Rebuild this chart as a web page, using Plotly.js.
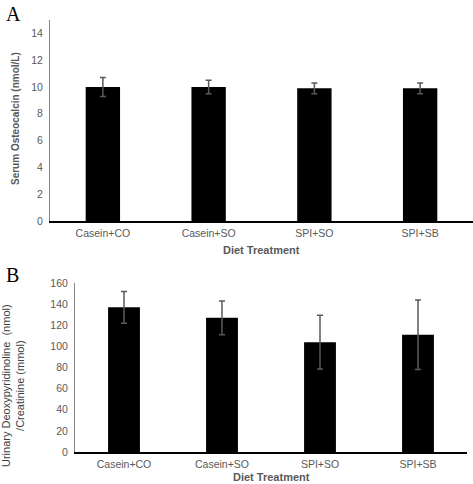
<!DOCTYPE html>
<html>
<head>
<meta charset="utf-8">
<script src="https://cdn.plot.ly/plotly-3.0.1.min.js"></script>
<style>html,body{margin:0;padding:0;background:#fff;}#chart{width:473px;height:484px;}</style>
</head>
<body>
<div id="chart"></div>
<script>
// Data
const categories = ["Casein+CO", "Casein+SO", "SPI+SO", "SPI+SB"];
const osteocalcin = [10.0, 10.0, 9.9, 9.9];
const osteocalcinErr = [0.7, 0.5, 0.4, 0.4];
const dpd = [137, 127, 104, 111];
const dpdErr = [15, 16, 25.5, 33];
const yTicksA = [0, 2, 4, 6, 8, 10, 12, 14];
const yTicksB = [0, 20, 40, 60, 80, 100, 120, 140, 160];

const W = 473, H = 484;
const px = v => v / W;
const py = v => 1 - v / H;
const tickFont = {family: "Liberation Sans, Arial, sans-serif", size: 10.5, color: "#595959"};
const errStyle = {type: "data", visible: true, color: "#595959", thickness: 1.5, width: 3};

const data = [
  {type: "bar", x: categories, y: osteocalcin, xaxis: "x", yaxis: "y",
   marker: {color: "#000000", line: {color: "#000000", width: 0}},
   error_y: Object.assign({array: osteocalcinErr}, errStyle), hoverinfo: "none"},
  {type: "bar", x: categories, y: dpd, xaxis: "x2", yaxis: "y2",
   marker: {color: "#000000", line: {color: "#000000", width: 0}},
   error_y: Object.assign({array: dpdErr}, errStyle), hoverinfo: "none"}
];

const layout = {
  width: W, height: H,
  margin: {l: 0, r: 0, t: 0, b: 0},
  paper_bgcolor: "#ffffff", plot_bgcolor: "#ffffff",
  showlegend: false,
  bargap: 0.675,
  xaxis: {domain: [px(50), 1], anchor: "y", type: "category",
          showline: true, linecolor: "#000000", linewidth: 1.5,
          showgrid: false, zeroline: false, ticks: "", tickfont: tickFont, ticklabelstandoff: 2},
  yaxis: {domain: [py(221), py(20)], anchor: "x", range: [0, 15],
          tickvals: yTicksA, ticktext: yTicksA.map(String),
          showline: true, linecolor: "#868686", linewidth: 1,
          showgrid: false, zeroline: false, ticks: "", tickfont: tickFont, ticklabelstandoff: 4},
  xaxis2: {domain: [px(75), px(467)], anchor: "y2", type: "category",
          showline: true, linecolor: "#000000", linewidth: 1.5,
          showgrid: false, zeroline: false, ticks: "", tickfont: tickFont, ticklabelstandoff: 2},
  yaxis2: {domain: [py(452), py(283)], anchor: "x2", range: [0, 160],
          tickvals: yTicksB, ticktext: yTicksB.map(String),
          showline: true, linecolor: "#868686", linewidth: 1,
          showgrid: false, zeroline: false, ticks: "", tickfont: tickFont, ticklabelstandoff: 4},
  annotations: [
    {text: "A", xref: "paper", yref: "paper", x: px(4), y: py(1), xanchor: "left", yanchor: "top",
     showarrow: false, font: {family: "Liberation Serif, Times New Roman, serif", size: 20, color: "#000"}},
    {text: "B", xref: "paper", yref: "paper", x: px(4), y: py(262), xanchor: "left", yanchor: "top",
     showarrow: false, font: {family: "Liberation Serif, Times New Roman, serif", size: 20, color: "#000"}},
    {text: "<b>Serum Osteocalcin (nmol/L)</b>", xref: "paper", yref: "paper", x: px(15), y: py(119),
     xanchor: "center", yanchor: "middle", textangle: -90, showarrow: false,
     font: {family: "Liberation Sans, Arial, sans-serif", size: 10, color: "#595959"}},
    {text: "<b>Diet Treatment</b>", xref: "paper", yref: "paper", x: px(261), y: py(250),
     xanchor: "center", yanchor: "middle", showarrow: false,
     font: {family: "Liberation Sans, Arial, sans-serif", size: 11, color: "#595959"}},
    {text: "Urinary Deoxypyridinoline  (nmol)<br>/Creatinine (mmol)", xref: "paper", yref: "paper", x: px(13), y: py(386),
     xanchor: "center", yanchor: "middle", textangle: -90, showarrow: false,
     font: {family: "Liberation Sans, Arial, sans-serif", size: 11, color: "#404040"}},
    {text: "<b>Diet Treatment</b>", xref: "paper", yref: "paper", x: px(271), y: py(477),
     xanchor: "center", yanchor: "middle", showarrow: false,
     font: {family: "Liberation Sans, Arial, sans-serif", size: 11, color: "#595959"}}
  ]
};

Plotly.newPlot("chart", data, layout, {displayModeBar: false, staticPlot: true});
</script>
</body>
</html>
